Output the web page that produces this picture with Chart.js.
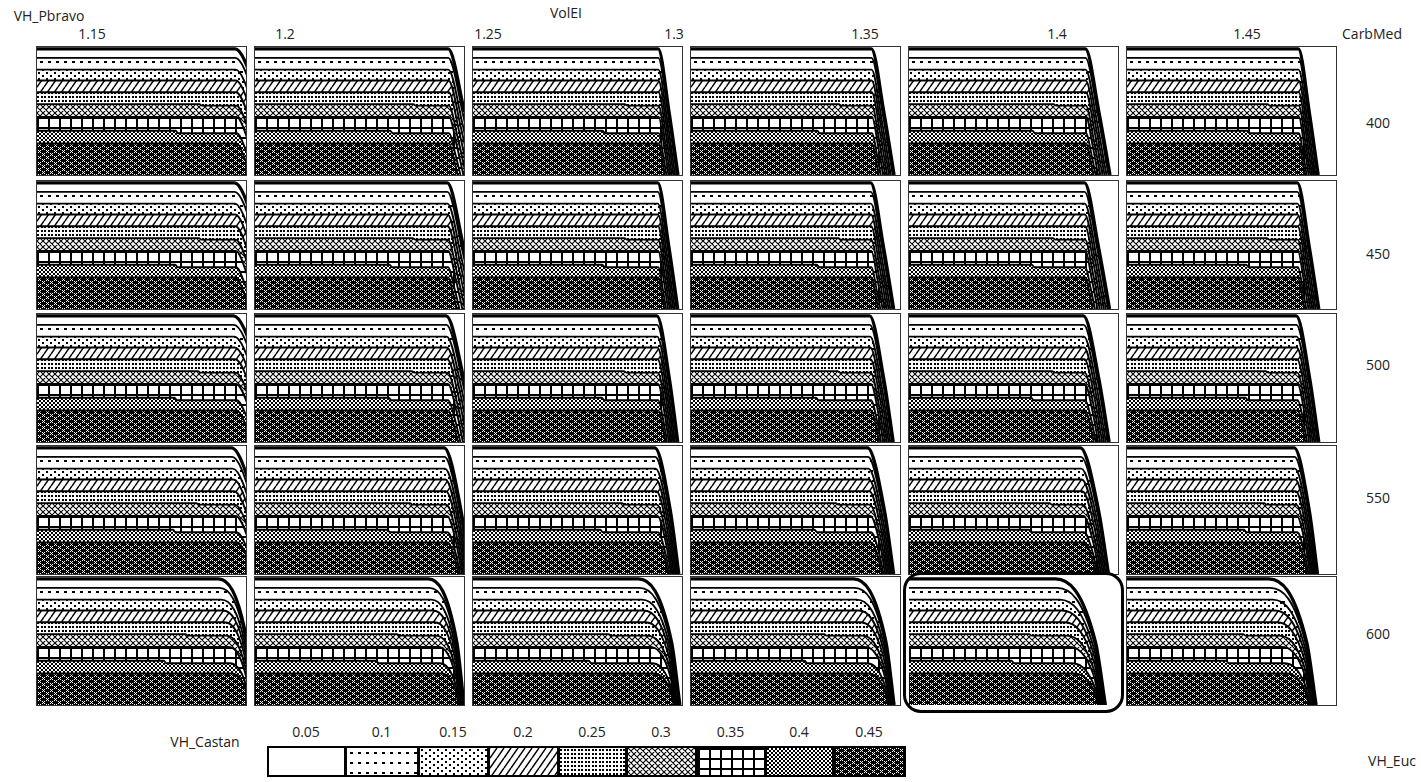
<!DOCTYPE html>
<html><head><meta charset="utf-8">
<script src="https://cdn.jsdelivr.net/npm/chart.js@4.4.1/dist/chart.umd.min.js"></script>
<style>
html,body{margin:0;padding:0;background:#fff;}
#root{position:relative;width:1421px;height:782px;overflow:hidden;font-family:'Open Sans',sans-serif;font-size:14px;color:#222;}
.t{position:absolute;transform:translate(-50%,-50%);white-space:nowrap;}
.cell{position:absolute;box-sizing:border-box;border:1px solid #333;background:#fff;}
.cell canvas{display:block;}
.lg{position:absolute;top:746px;height:31px;box-sizing:border-box;border:2px solid #000;image-rendering:pixelated;}
#hl{position:absolute;left:903px;top:572px;width:221px;height:141px;box-sizing:border-box;border:3px solid #000;border-radius:18px;}
</style></head><body><div id="root"></div>
<script>
// ---------------- data ----------------
const carbMed = ['400', '450', '500', '550', '600'];               // rows
const volEITicks = ['1.15', '1.2', '1.25', '1.3', '1.35', '1.4', '1.45'];
const castanLevels = ['0.05', '0.1', '0.15', '0.2', '0.25', '0.3', '0.35', '0.4', '0.45'];
// upper edge of each VH_Castan band, in fraction of the VH_Pbravo range,
// listed from 0.45 (bottom band) up to 0.05 (top band)
const bandTop = [0.246, 0.346, 0.454, 0.554, 0.646, 0.738, 0.823, 0.915, 0.985];
// small steps seen in some band edges (x as share of the flat part, drop in y)
const stepAt   = [0, 0.70, 0, 0.82, 0, 0, 0, 0, 0];
const stepDrop = [0, 0.020, 0, 0.012, 0, 0, 0, 0, 0];
// VH_Euc where the upper edge starts to fall, per CarbMed row and VolEI column
const dropStart = [
  [0.948, 0.924, 0.886, 0.863, 0.844, 0.820],
  [0.945, 0.920, 0.884, 0.860, 0.840, 0.815],
  [0.940, 0.915, 0.880, 0.855, 0.835, 0.810],
  [0.930, 0.905, 0.870, 0.845, 0.820, 0.800],
  [0.867, 0.829, 0.791, 0.777, 0.701, 0.678]
];
// VH_Euc where the upper edge reaches zero
const dropEnd = [
  [1.190, 1.066, 0.981, 0.972, 0.962, 0.915],
  [1.180, 1.060, 0.980, 0.970, 0.960, 0.918],
  [1.170, 1.055, 0.980, 0.968, 0.958, 0.918],
  [1.120, 1.030, 0.985, 0.970, 0.955, 0.912],
  [1.040, 1.000, 0.990, 0.972, 0.940, 0.905]
];
// shape of the fall per row: where half height is reached, and how lower edges shift
const curveMid  = [0.55, 0.55, 0.60, 0.65, 0.80];
const shiftStart = [0.05, 0.05, 0.10, 0.20, 0.50];
const shiftEnd   = [0.90, 0.90, 0.80, 0.60, 0.20];

// ---------------- layout ----------------
const root = document.getElementById('root');
const cellLeft = [36, 254, 472, 690, 908, 1126];
const cellTop = [46, 180, 313, 445, 576];
const cellW = 211, cellH = 130;
const tickX = [92, 285, 488, 674, 865, 1057, 1247];
const rowLabelY = [122, 253, 364, 497, 633];
const legendEdges = [267, 345, 418, 488, 558, 626, 696, 765, 833, 905];

function text(str, x, y, extra) {
  const d = document.createElement('div');
  d.className = 't'; d.textContent = str;
  d.style.left = x + 'px'; d.style.top = y + 'px';
  if (extra) Object.assign(d.style, extra);
  root.appendChild(d);
}

// ---------------- patterns ----------------
function tile(w, h, draw) {
  const c = document.createElement('canvas');
  c.width = w; c.height = h;
  const g = c.getContext('2d');
  g.fillStyle = '#fff'; g.fillRect(0, 0, w, h);
  g.fillStyle = '#000'; g.strokeStyle = '#000';
  draw(g, w, h);
  return c;
}
const tiles = {
  '0.05': tile(4, 4, () => {}),
  '0.1': tile(8, 10, g => g.fillRect(3, 4, 3, 2)),
  '0.15': tile(8, 6, g => { g.fillRect(1, 1, 2, 2); g.fillRect(5, 4, 2, 2); }),
  '0.2': tile(7, 10, g => { g.lineWidth = 1.5; g.beginPath();
      for (let o = -14; o <= 14; o += 7) { g.moveTo(o, 10); g.lineTo(o + 7, 0); }
      g.stroke(); }),
  '0.25': tile(7, 4, g => { g.fillRect(0, 1, 2, 2); g.fillRect(4, 1, 2, 2); }),
  '0.3': tile(6, 6, g => { g.lineWidth = 1.1; g.beginPath();
      for (let o = -12; o <= 12; o += 6) { g.moveTo(o, 0); g.lineTo(o + 6, 6); g.moveTo(o + 6, 0); g.lineTo(o, 6); }
      g.stroke(); }),
  '0.35': tile(11, 10, g => { g.fillRect(0, 0, 2, 10); g.fillRect(0, 0, 11, 2); }),
  '0.4': tile(4, 4, g => { g.fillRect(0, 0, 2, 2); g.fillRect(2, 2, 2, 2); }),
  '0.45': tile(8, 6, g => { g.fillRect(0, 0, 8, 6); g.fillStyle = '#fff';
      [[1,1],[3,1],[2,2],[1,3],[3,3],[5,4],[7,4],[6,5],[5,0],[7,0]].forEach(p => g.fillRect(p[0], p[1], 1, 1)); })
};

// ---------------- cells ----------------
function boundaryPoints(k, r, c) {
  const top = bandTop[bandTop.length - 1];
  const L = bandTop[k];
  const f = L / top;
  const xs = dropStart[r][c], xe = dropEnd[r][c], w = xe - xs;
  const xsk = xs + (1 - f) * shiftStart[r] * w;
  const xek = xe - (1 - f) * shiftEnd[r] * w;
  const xmk = xsk + curveMid[r] * (xek - xsk);
  const pts = [{x: 0, y: L}];
  let lv = L;
  if (stepAt[k] > 0) {
    const sx = stepAt[k] * xs;
    pts.push({x: sx, y: L});
    lv = L - stepDrop[k];
    pts.push({x: sx + 0.012, y: lv});
  }
  pts.push({x: xsk, y: lv});
  pts.push({x: xmk, y: lv / 2});
  pts.push({x: xek, y: 0});
  return pts;
}

carbMed.forEach((lab, r) => {
  for (let c = 0; c < 6; c++) {
    const wrap = document.createElement('div');
    wrap.className = 'cell';
    wrap.style.left = cellLeft[c] + 'px'; wrap.style.top = cellTop[r] + 'px';
    wrap.style.width = cellW + 'px'; wrap.style.height = cellH + 'px';
    if (r === 4 && c === 4) wrap.style.borderColor = 'transparent';
    const cv = document.createElement('canvas');
    cv.width = cellW - 2; cv.height = cellH - 2;
    cv.style.width = (cellW - 2) + 'px'; cv.style.height = (cellH - 2) + 'px';
    wrap.appendChild(cv); root.appendChild(wrap);
    const ctx = cv.getContext('2d');
    const datasets = bandTop.map((L, k) => {
      const lvl = castanLevels[castanLevels.length - 1 - k];
      return {
        label: lvl,
        data: boundaryPoints(k, r, c),
        fill: 'origin',
        backgroundColor: lvl === '0.05' ? '#fff' : ctx.createPattern(tiles[lvl], 'repeat'),
        borderColor: '#000',
        borderWidth: k === bandTop.length - 1 ? 3.2 : 1.9,
        pointRadius: 0,
        cubicInterpolationMode: 'monotone'
      };
    });
    new Chart(cv, {
      type: 'line',
      data: {datasets},
      options: {
        responsive: false, animation: false, devicePixelRatio: 1, events: [],
        layout: {padding: 0},
        scales: {
          x: {type: 'linear', min: 0, max: 1, display: false},
          y: {min: 0, max: 1, display: false}
        },
        plugins: {legend: {display: false}, tooltip: {enabled: false}, filler: {drawTime: 'beforeDatasetsDraw'}}
      }
    });
  }
  text(lab, 1378, rowLabelY[r]);
});

// ---------------- titles and ticks ----------------
text('VH_Pbravo', 49, 15);
text('VolEI', 566, 12);
volEITicks.forEach((t, i) => text(t, tickX[i], 33));
text('CarbMed', 1372, 33);
text('VH_Castan', 205, 741);
text('VH_Euc', 1392, 760);

// ---------------- legend ----------------
castanLevels.forEach((lvl, i) => {
  const d = document.createElement('div');
  d.className = 'lg';
  const x0 = legendEdges[i], x1 = legendEdges[i + 1];
  d.style.left = x0 + 'px'; d.style.width = (x1 - x0 + 1) + 'px';
  d.style.backgroundImage = 'url(' + tiles[lvl].toDataURL() + ')';
  root.appendChild(d);
  text(lvl, (x0 + x1) / 2, 731);
});

const hl = document.createElement('div');
hl.id = 'hl';
root.appendChild(hl);
</script></body></html>
